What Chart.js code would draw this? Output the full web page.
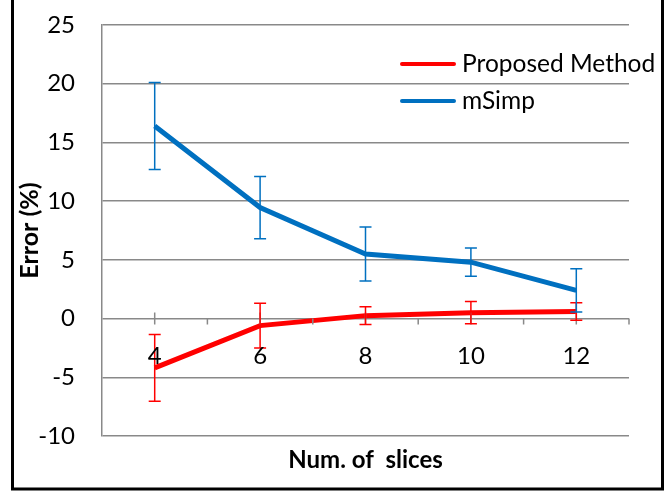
<!DOCTYPE html>
<html>
<head>
<meta charset="utf-8">
<script src="https://cdn.jsdelivr.net/npm/chart.js@4.4.1/dist/chart.umd.min.js"></script>
<style>
  html, body { margin: 0; padding: 0; background: #fff; }
  #wrap { width: 666px; height: 491px; position: relative; }
</style>
</head>
<body>
<div id="wrap"><canvas id="errChart"></canvas></div>
<script>
// data
const slices = ["4", "6", "8", "10", "12"];
const proposed = [-4.2, -0.6, 0.25, 0.5, 0.6];
const proposedErr = [2.85, 1.9, 0.75, 0.95, 0.75];
const msimp = [16.4, 9.45, 5.5, 4.8, 2.4];
const msimpErr = [3.7, 2.65, 2.3, 1.2, 1.85];
const yMin = -10, yMax = 25, yStep = 5;

const FONT = "Lato, 'Open Sans', sans-serif";
const GRID = "#898989";

// error bars, x ticks at zero, category labels, legend, frame
const extras = {
    id: "extras",
    afterDatasetsDraw(chart) {
        const ctx = chart.ctx;
        const x = chart.scales.x, y = chart.scales.y;
        const area = chart.chartArea;
        const y0 = y.getPixelForValue(0);
        const step = x.getPixelForValue(1) - x.getPixelForValue(0);

        // ticks on the zero line
        ctx.save();
        ctx.strokeStyle = GRID;
        ctx.lineWidth = 1.5;
        ctx.beginPath();
        slices.forEach((s, i) => {
            let cx = x.getPixelForValue(i);
            ctx.moveTo(cx, y0 - 6); ctx.lineTo(cx, y0 + 6);
            let bx = cx + step / 2;
            ctx.moveTo(bx, y0); ctx.lineTo(bx, y0 + 6);
        });
        ctx.stroke();
        ctx.restore();

        // error bars
        chart.data.datasets.forEach((ds, di) => {
            ctx.save();
            ctx.strokeStyle = ds.borderColor;
            ctx.lineWidth = 1.5;
            ctx.beginPath();
            ds.data.forEach((v, i) => {
                let cx = x.getPixelForValue(i);
                let top = y.getPixelForValue(v + ds.err[i]);
                let bot = y.getPixelForValue(v - ds.err[i]);
                ctx.moveTo(cx, top); ctx.lineTo(cx, bot);
                ctx.moveTo(cx - 6, top); ctx.lineTo(cx + 6, top);
                ctx.moveTo(cx - 6, bot); ctx.lineTo(cx + 6, bot);
            });
            ctx.stroke();
            ctx.restore();
        });

        // category labels below the zero line
        ctx.save();
        ctx.fillStyle = "#000";
        ctx.font = "24px " + FONT;
        ctx.textAlign = "center";
        ctx.textBaseline = "middle";
        slices.forEach((s, i) => {
            ctx.fillText(s, x.getPixelForValue(i), y0 + 38);
        });
        // x title
        ctx.font = "bold 24px " + FONT;
        ctx.fillText("Num. of  slices", (area.left + area.right) / 2, area.bottom + 24);
        ctx.restore();

        // legend
        ctx.save();
        ctx.font = "24.5px " + FONT;
        ctx.textBaseline = "middle";
        ctx.textAlign = "left";
        chart.data.datasets.forEach((ds, di) => {
            let ly = 64 + di * 37;
            ctx.strokeStyle = ds.borderColor;
            ctx.lineWidth = 4;
            ctx.lineCap = "round";
            ctx.beginPath();
            ctx.moveTo(402, ly); ctx.lineTo(454, ly);
            ctx.stroke();
            ctx.fillStyle = "#000";
            ctx.fillText(ds.label, 462, ly);
        });
        ctx.restore();

        // outer frame
        ctx.save();
        ctx.strokeStyle = "#000";
        ctx.lineWidth = 3;
        ctx.beginPath();
        ctx.moveTo(12.5, 0); ctx.lineTo(12.5, 489); ctx.lineTo(662.5, 489); ctx.lineTo(662.5, 0);
        ctx.stroke();
        ctx.restore();
    }
};

new Chart(document.getElementById("errChart").getContext("2d"), {
    type: "line",
    data: {
        labels: slices,
        datasets: [{
            label: "Proposed Method",
            data: proposed,
            err: proposedErr,
            borderColor: "#FF0000",
            borderWidth: 5,
            pointRadius: 0,
            tension: 0
        }, {
            label: "mSimp",
            data: msimp,
            err: msimpErr,
            borderColor: "#0070C0",
            borderWidth: 5,
            pointRadius: 0,
            tension: 0
        }]
    },
    options: {
        responsive: true,
        maintainAspectRatio: false,
        animation: false,
        layout: { padding: { left: 12, right: 37, top: 25, bottom: 55 } },
        plugins: {
            legend: { display: false },
            tooltip: { enabled: false }
        },
        scales: {
            x: {
                display: false,
                offset: true
            },
            y: {
                min: yMin,
                max: yMax,
                afterFit: (scale) => {
                    scale.width = 90;
                    scale.paddingTop = 0;
                    scale.paddingBottom = 0;
                },
                ticks: {
                    stepSize: yStep,
                    color: "#000",
                    padding: 27,
                    font: { family: FONT, size: 24 }
                },
                grid: { color: GRID, lineWidth: 1.5, drawTicks: false },
                border: { color: GRID, width: 1.5 },
                title: {
                    display: true,
                    text: "Error (%)",
                    color: "#000",
                    padding: { top: 3, bottom: 3 },
                    font: { family: FONT, size: 25, weight: "bold" }
                }
            }
        }
    },
    plugins: [extras]
});
</script>
</body>
</html>
